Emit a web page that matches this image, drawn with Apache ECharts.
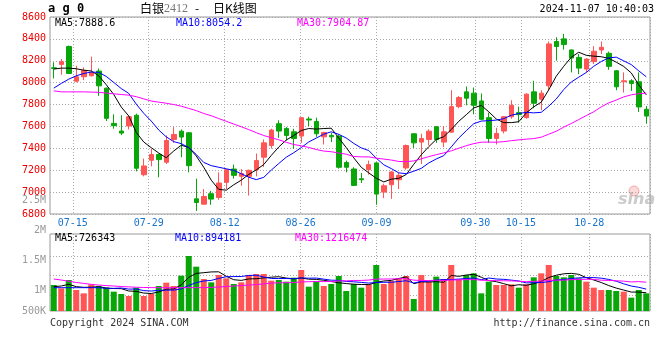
<!DOCTYPE html>
<html><head><meta charset="utf-8">
<script src="https://cdn.jsdelivr.net/npm/echarts@6/dist/echarts.min.js"></script>
<style>html,body{margin:0;padding:0;background:#fff}#c{width:660px;height:360px}</style>
</head><body><div id="c"></div>
<script>
const dates = ['07-10','07-11','07-12','07-15','07-16','07-17','07-18','07-19','07-22','07-23','07-24','07-25','07-26','07-29','07-30','07-31','08-01','08-02','08-05','08-06','08-07','08-08','08-09','08-12','08-13','08-14','08-15','08-16','08-19','08-20','08-21','08-22','08-23','08-26','08-27','08-28','08-29','08-30','09-02','09-03','09-04','09-05','09-06','09-09','09-10','09-11','09-12','09-13','09-18','09-19','09-20','09-23','09-24','09-25','09-26','09-27','09-30','10-08','10-09','10-10','10-11','10-14','10-15','10-16','10-17','10-18','10-21','10-22','10-23','10-24','10-25','10-28','10-29','10-30','10-31','11-01','11-04','11-05','11-06','11-07'];
const labelDates = ['07-15','07-29','08-12','08-26','09-09','09-30','10-15','10-28'];

const open  = [8136,8167,8330,8014,8054,8063,8106,7950,7628,7558,7604,7702,7159,7291,7343,7273,7481,7557,7542,6939,6890,6985,6951,7089,7211,7144,7144,7205,7319,7426,7625,7582,7551,7512,7668,7646,7505,7518,7512,7270,7211,7122,7205,7267,7000,7067,7113,7221,7533,7457,7481,7597,7457,7548,7781,7916,7904,7833,7680,7490,7558,7689,7726,7680,7916,7849,7971,8376,8400,8299,8231,8124,8192,8299,8268,8109,8008,8017,8008,7757];
const close = [8130,8192,8084,8054,8112,8094,7971,7674,7607,7539,7689,7218,7239,7343,7297,7472,7527,7503,7242,6905,6960,6936,7083,7205,7153,7169,7199,7288,7450,7567,7558,7518,7490,7680,7659,7533,7545,7505,7227,7227,7061,7113,7251,6982,7058,7184,7153,7426,7450,7490,7557,7481,7551,7781,7864,7858,7793,7665,7490,7536,7689,7793,7708,7895,7812,7904,8354,8330,8348,8225,8133,8216,8287,8323,8149,7962,8017,7993,7778,7695];
const low   = [8038,8072,8078,8002,8023,8057,7879,7649,7579,7521,7573,7190,7144,7236,7135,7257,7450,7319,7181,6828,6887,6884,6930,7028,7123,7058,6969,7144,7230,7398,7496,7472,7395,7450,7604,7505,7435,7457,7214,7181,7058,7083,7159,6884,6945,6939,7028,7205,7404,7257,7426,7450,7411,7542,7766,7793,7711,7659,7450,7435,7536,7671,7634,7671,7766,7748,7931,8201,8302,8094,8078,8094,8170,8262,8118,7931,7910,7925,7732,7625];
const high  = [8186,8216,8339,8155,8140,8238,8130,7955,7711,7702,7696,7717,7306,7395,7352,7518,7594,7573,7548,7123,7028,7012,7181,7211,7251,7211,7205,7352,7481,7579,7656,7594,7579,7686,7689,7680,7551,7542,7527,7288,7227,7175,7288,7273,7077,7190,7175,7435,7536,7533,7573,7604,7604,7931,7879,7965,7956,7901,7726,7588,7696,7839,7781,7904,8017,7931,8376,8415,8446,8302,8262,8222,8333,8376,8284,8115,8094,8032,8094,7787];

const ma5  = [8124,8133,8133,8127,8114,8107,8063,7981,7892,7777,7696,7545,7458,7406,7357,7314,7376,7428,7408,7330,7227,7109,7025,7018,7067,7109,7162,7203,7252,7335,7412,7476,7517,7563,7581,7576,7581,7584,7494,7407,7313,7227,7176,7127,7093,7118,7126,7161,7254,7341,7415,7481,7506,7572,7647,7707,7769,7792,7734,7668,7635,7635,7643,7724,7779,7822,7935,8059,8150,8232,8278,8250,8242,8237,8222,8187,8148,8089,7980,7889];
const ma10 = [7950,7993,8032,8063,8084,8097,8094,8057,8002,7946,7902,7804,7720,7649,7567,7505,7461,7443,7407,7344,7271,7242,7227,7213,7199,7168,7136,7114,7135,7201,7261,7319,7360,7407,7458,7494,7529,7551,7528,7494,7445,7404,7380,7310,7250,7215,7176,7168,7191,7217,7266,7303,7333,7413,7494,7561,7625,7649,7653,7658,7671,7702,7718,7729,7724,7729,7785,7851,7937,8006,8050,8093,8150,8193,8227,8233,8199,8165,8108,8054];
const ma30 = [7925,7916,7916,7916,7916,7914,7912,7905,7898,7892,7886,7872,7852,7832,7822,7812,7800,7785,7765,7745,7718,7698,7672,7647,7622,7597,7571,7543,7517,7497,7478,7455,7435,7423,7408,7389,7375,7369,7357,7346,7325,7322,7322,7310,7302,7293,7280,7278,7285,7304,7324,7342,7358,7377,7401,7424,7443,7456,7457,7456,7461,7470,7477,7484,7489,7502,7529,7556,7594,7627,7663,7699,7734,7779,7815,7841,7870,7889,7899,7905];

const vol = [1083000,944000,1292000,875000,736000,1111000,1042000,986000,806000,708000,625000,972000,625000,708000,1042000,1181000,1042000,1472000,2292000,1847000,1333000,1194000,1500000,1361000,1125000,1194000,1500000,1542000,1542000,1264000,1292000,1222000,1389000,1708000,1014000,1250000,1042000,1125000,1458000,833000,1125000,972000,1111000,1917000,1125000,1250000,1361000,1458000,500000,1500000,1222000,1431000,1333000,1917000,1319000,1500000,1569000,736000,1222000,1083000,1083000,1111000,972000,1111000,1403000,1569000,1917000,1458000,1403000,1500000,1361000,1222000,972000,875000,875000,833000,806000,556000,875000,736000];
const volMa5  = [1014000,1042000,1111000,1014000,986000,992000,1011000,950000,936000,931000,833000,819000,747000,728000,794000,906000,920000,1089000,1406000,1567000,1597000,1628000,1633000,1447000,1303000,1275000,1336000,1344000,1381000,1408000,1428000,1372000,1342000,1375000,1325000,1317000,1281000,1228000,1178000,1142000,1117000,1103000,1100000,1192000,1250000,1275000,1353000,1422000,1139000,1214000,1208000,1222000,1197000,1481000,1444000,1500000,1528000,1408000,1269000,1222000,1139000,1047000,1094000,1072000,1136000,1233000,1394000,1492000,1550000,1569000,1528000,1389000,1292000,1186000,1061000,955000,872000,789000,789000,761000];
const volMa10 = [972000,972000,972000,972000,972000,972000,972000,944000,944000,958000,913000,915000,849000,832000,863000,870000,870000,918000,1067000,1181000,1251000,1274000,1361000,1426000,1435000,1436000,1482000,1489000,1414000,1356000,1351000,1354000,1343000,1378000,1367000,1372000,1327000,1285000,1276000,1233000,1217000,1192000,1164000,1185000,1196000,1196000,1228000,1261000,1165000,1232000,1242000,1288000,1310000,1310000,1329000,1354000,1375000,1303000,1375000,1333000,1319000,1287000,1251000,1171000,1179000,1186000,1221000,1293000,1311000,1353000,1381000,1392000,1392000,1368000,1315000,1242000,1131000,1040000,988000,911000];
const volMa30 = [1333000,1290000,1240000,1190000,1150000,1110000,1080000,1060000,1040000,1020000,1005000,990000,980000,975000,972000,972000,972000,972000,972000,972000,975000,985000,1000000,1020000,1040000,1060000,1080000,1100000,1130000,1165000,1172000,1181000,1184000,1212000,1221000,1226000,1226000,1231000,1252000,1256000,1273000,1273000,1289000,1330000,1332000,1335000,1345000,1345000,1285000,1274000,1270000,1278000,1272000,1291000,1297000,1307000,1310000,1283000,1272000,1266000,1259000,1255000,1242000,1222000,1235000,1245000,1274000,1286000,1284000,1306000,1314000,1322000,1318000,1283000,1274000,1261000,1242000,1212000,1224000,1199000];

const volLabelValues = [650000, 1000000, 1500000, 2000000, 2500000];
const volLabelTexts  = ['500K', '1M', '1.5M', '2M', '2.5M'];
const volGridValues  = [640000, 1500000, 2300000];

const priceLegend = ['MA5:7888.6', 'MA10:8054.2', 'MA30:7904.87'];
const volLegend   = ['MA5:726343', 'MA10:894181', 'MA30:1216474'];

const UP = '#ff5555', DOWN = '#08a608';
const MONO = '"DejaVu Sans Mono", monospace';
const GRIDC = '#a8a8a8';
const labelCats = dates.slice(0, dates.length - 1);
const isLabel = (i, v) => labelDates.indexOf(v) >= 0;

const candles = dates.map((d, i) => [open[i], close[i], low[i], high[i]]);
const volBars = vol.map((v, i) => ({ value: v, itemStyle: { color: close[i] >= open[i] ? UP : DOWN } }));

const dotted = { color: GRIDC, width: 1, type: [1, 2] };

function line(name, data, color, xi, yi) {
  return { name, type: 'line', data, xAxisIndex: xi, yAxisIndex: yi, symbol: 'none', smooth: false,
    lineStyle: { color, width: 1 }, itemStyle: { color }, z: 5, silent: true };
}

const chart = echarts.init(document.getElementById('c'), null, { renderer: 'canvas' });
chart.setOption({
  animation: false,
  backgroundColor: '#fff',
  grid: [
    { left: 50, right: 10, top: 17, height: 197, show: true, borderColor: '#999', borderWidth: 1, backgroundColor: 'transparent' },
    { left: 50, right: 10, top: 234, height: 77, show: true, borderColor: '#999', borderWidth: 1, backgroundColor: 'transparent' },
    { left: 50, right: 10, top: 200, height: 111, show: false }
  ],
  xAxis: [
    { type: 'category', gridIndex: 0, data: dates, position: 'top', boundaryGap: true, show: false },
    { type: 'category', gridIndex: 0, data: labelCats, position: 'bottom', boundaryGap: true,
      axisLine: { show: false }, axisTick: { show: false },
      axisLabel: { interval: isLabel, color: '#1874CD', fontFamily: MONO, fontSize: 10, margin: 4, padding: [0, 7.6, 0, 0] },
      splitLine: { show: true, interval: isLabel, lineStyle: dotted } },
    { type: 'category', gridIndex: 1, data: dates, position: 'top', boundaryGap: true, show: false },
    { type: 'category', gridIndex: 1, data: labelCats, position: 'bottom', boundaryGap: true,
      axisLine: { show: false }, axisTick: { show: false }, axisLabel: { show: false },
      splitLine: { show: true, interval: isLabel, lineStyle: dotted } },
    { type: 'value', gridIndex: 2, show: false, min: 0, max: 1 }
  ],
  yAxis: [
    { type: 'value', gridIndex: 0, min: 6800, max: 8600, interval: 200, position: 'left',
      axisLine: { show: false }, axisTick: { show: false },
      axisLabel: { color: '#ee0000', fontFamily: MONO, fontSize: 10, margin: 4, formatter: (v) => String(v) },
      splitLine: { show: true, lineStyle: dotted } },
    { type: 'value', gridIndex: 1, min: 0, max: 3208333, position: 'left',
      axisLine: { show: false }, axisTick: { show: false, customValues: volGridValues },
      axisLabel: { show: false },
      splitLine: { show: true, lineStyle: dotted } },
    { type: 'value', gridIndex: 2, min: 650000, max: 2500000, position: 'left',
      axisLine: { show: false }, axisTick: { show: false }, splitLine: { show: false },
      axisLabel: { customValues: volLabelValues, color: '#9a9a9a', fontFamily: MONO, fontSize: 10, margin: 4,
        formatter: (v) => { const k = volLabelValues.indexOf(v); return k >= 0 ? volLabelTexts[k] : ''; } } }
  ],
  series: [
    { type: 'candlestick', xAxisIndex: 0, yAxisIndex: 0, data: candles, barWidth: 5, silent: true,
      itemStyle: { color: UP, color0: DOWN, borderColor: UP, borderColor0: DOWN, borderWidth: 1 } },
    line('MA5', ma5, '#000000', 0, 0),
    line('MA10', ma10, '#0000ff', 0, 0),
    line('MA30', ma30, '#ff00ff', 0, 0),
    { type: 'bar', xAxisIndex: 2, yAxisIndex: 1, data: volBars, barWidth: 6, silent: true },
    line('VMA5', volMa5, '#000000', 2, 1),
    line('VMA10', volMa10, '#0000ff', 2, 1),
    line('VMA30', volMa30, '#ff00ff', 2, 1)
  ],
  graphic: [
    { type: 'text', left: 48, top: 3, style: { text: 'a g 0', font: 'bold 12px ' + MONO, fill: '#000' } },
    { type: 'text', left: 140, top: 2, style: { text: '白银', font: '12px "Noto Sans CJK SC"', fill: '#000' } },
    { type: 'text', left: 164, top: 3, style: { text: '2412', font: '12px "Liberation Serif"', fill: '#777' } },
    { type: 'text', left: 195, top: 2, style: { text: '-', font: '12px "Noto Sans CJK SC"', fill: '#000' } },
    { type: 'text', left: 213, top: 2, style: { text: '日K线图', font: '12px "Noto Sans CJK SC"', fill: '#000' } },
    { type: 'text', right: 6, top: 4, style: { text: '2024-11-07 10:40:03', font: '10px ' + MONO, fill: '#000' } },
    { type: 'text', left: 55, top: 18, style: { text: priceLegend[0], font: '10px ' + MONO, fill: '#000' } },
    { type: 'text', left: 176, top: 18, style: { text: priceLegend[1], font: '10px ' + MONO, fill: '#0000ff' } },
    { type: 'text', left: 297, top: 18, style: { text: priceLegend[2], font: '10px ' + MONO, fill: '#ff00ff' } },
    { type: 'text', left: 55, top: 233, style: { text: volLegend[0], font: '10px ' + MONO, fill: '#000' } },
    { type: 'text', left: 175, top: 233, style: { text: volLegend[1], font: '10px ' + MONO, fill: '#0000ff' } },
    { type: 'text', left: 295, top: 233, style: { text: volLegend[2], font: '10px ' + MONO, fill: '#ff00ff' } },
    { type: 'text', left: 50, top: 318, style: { text: 'Copyright 2024 SINA.COM', font: '10px ' + MONO, fill: '#333' } },
    { type: 'text', right: 10, top: 318, style: { text: 'http://finance.sina.com.cn', font: '10px ' + MONO, fill: '#333' } },
    { type: 'circle', shape: { cx: 634, cy: 191, r: 5 }, style: { fill: 'rgba(240,150,150,0.35)', stroke: 'rgba(230,110,110,0.5)', lineWidth: 1 }, z: 1 },
    { type: 'text', left: 618, top: 192, style: { text: 'sina', font: 'italic bold 16px "DejaVu Sans"', fill: 'rgba(160,160,160,0.55)' }, z: 1 }
  ]
});
</script></body></html>
